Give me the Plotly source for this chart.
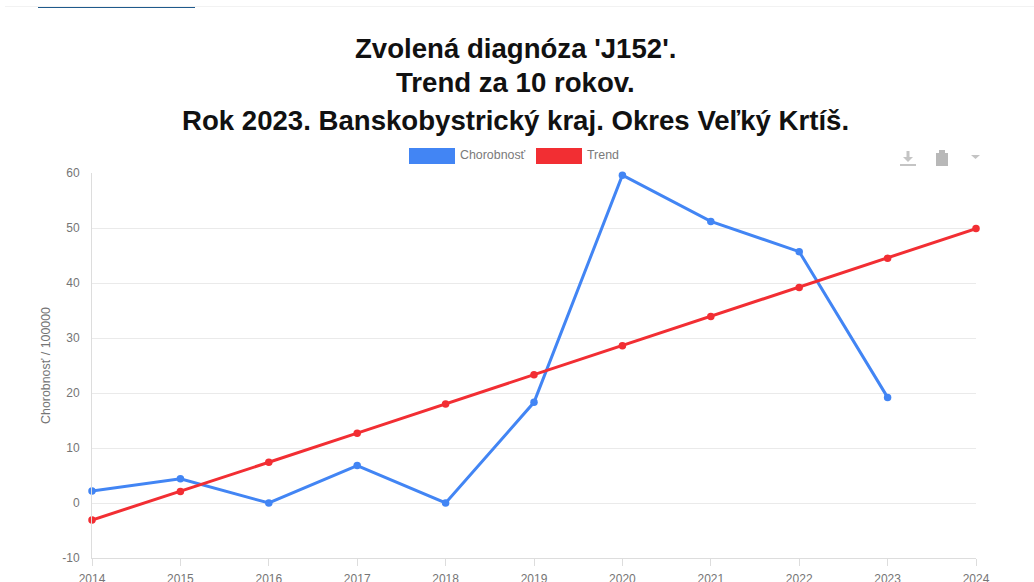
import plotly.graph_objects as go

years = list(range(2014, 2025))
chorobnost = [2.2, 4.4, 0, 6.8, 0, 18.3, 59.6, 51.2, 45.7, 19.2, None]
trend = [-3.1, 2.1, 7.4, 12.7, 18.0, 23.3, 28.6, 33.9, 39.2, 44.5, 49.9]
y_ticks = list(range(-10, 70, 10))
y_labels = [str(v) for v in y_ticks]
title_lines = ["Zvolená diagnóza 'J152'.", "Trend za 10 rokov.", "Rok 2023. Banskobystrický kraj. Okres Veľký Krtíš."]
BLUE = "#4285f4"
RED = "#f22e33"
FONT = "Liberation Sans, Arial"
W, H = 1034, 582
L, R, T, B = 92, 976, 173, 558
px = lambda x: (x - L) / (R - L)
py = lambda y: (B - y) / (B - T)

fig = go.Figure()
for name, vals, col in [("Chorobnosť", chorobnost, BLUE), ("Trend", trend, RED)]:
    fig.add_trace(go.Scatter(x=years, y=vals, name=name, mode="lines+markers",
                             line=dict(color=col, width=3), marker=dict(color=col, size=7.5),
                             showlegend=False, cliponaxis=False))

def rect(x0, y0, x1, y1, col):
    return dict(type="rect", xref="paper", yref="paper", x0=px(x0), x1=px(x1), y0=py(y0), y1=py(y1),
                fillcolor=col, line_width=0, layer="above")

shapes = [
    rect(409, 148, 455, 164, BLUE), rect(536, 148, 582, 164, RED),
    rect(38, 6.5, 195, 8, "#1f5a8c"), rect(5, 6, 1034, 7, "#f2f2f2"),
    # toolbar icons
    rect(900, 164, 916, 166, "#c4c4c4"), rect(906.5, 151, 909.5, 158, "#c4c4c4"),
    dict(type="path", xref="paper", yref="paper", line_width=0, fillcolor="#c4c4c4",
         path=f"M {px(903)} {py(157)} L {px(913)} {py(157)} L {px(908)} {py(162)} Z"),
    rect(936, 153, 948, 166, "#b8b8b8"), rect(939, 150, 945, 154, "#b8b8b8"),
    dict(type="path", xref="paper", yref="paper", line_width=0, fillcolor="#c4c4c4",
         path=f"M {px(971)} {py(155)} L {px(980)} {py(155)} L {px(975.5)} {py(159)} Z"),
]

annots = [
    dict(x=px(515), y=py(y), xref="paper", yref="paper", text=t, showarrow=False, xanchor="center", yanchor="middle",
         font=dict(family=FONT, size=27.6, color="#111", weight="bold"))
    for t, y in zip(title_lines, [48, 83, 120])
]
annots += [
    dict(x=px(458), y=py(155), xref="paper", yref="paper", text="Chorobnosť", showarrow=False, xanchor="left", yanchor="middle",
         font=dict(family=FONT, size=12.4, color="#7a7a7a")),
    dict(x=px(585), y=py(155), xref="paper", yref="paper", text="Trend", showarrow=False, xanchor="left", yanchor="middle",
         font=dict(family=FONT, size=12.4, color="#7a7a7a")),
]

fig.update_layout(
    width=W, height=H, margin=dict(l=L, r=W - R, t=T, b=H - B, pad=0, autoexpand=False),
    paper_bgcolor="white", plot_bgcolor="white", showlegend=False,
    font=dict(family=FONT, size=12, color="#757575"),
    shapes=shapes, annotations=annots,
    xaxis=dict(range=[2014, 2024], tickmode="array", tickvals=years, ticktext=[str(y) for y in years],
               showgrid=False, ticks="outside", ticklen=7, tickcolor="#ddd", showline=True, linecolor="#ddd",
               linewidth=1, zeroline=False, tickfont=dict(size=12, color="#757575"), tickangle=0, ticklabelstandoff=3),
    yaxis=dict(range=[-10, 60], tickmode="array", tickvals=y_ticks, ticktext=y_labels, gridcolor="#eaeaea", gridwidth=1,
               zeroline=False, showline=True, linecolor="#ddd", linewidth=1, ticks="",
               tickfont=dict(size=12, color="#757575"), ticklabelstandoff=9,
               title=dict(text="Chorobnosť / 100000", font=dict(size=12.4, color="#757575"), standoff=8)),
)
fig.write_html("out.html", config=dict(displayModeBar=False),
               post_script="document.body.style.margin='0';document.body.style.overflow='hidden';")
